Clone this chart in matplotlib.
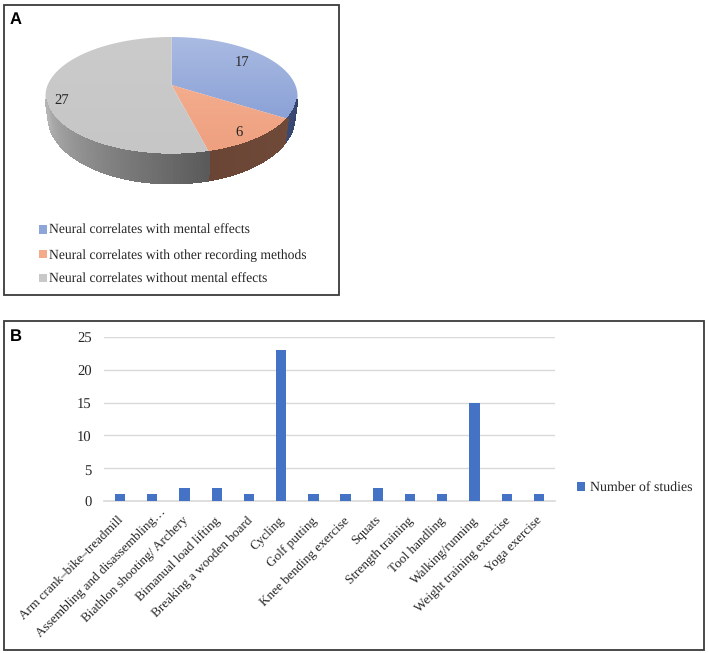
import numpy as np
import matplotlib
matplotlib.use('Agg')
import matplotlib.pyplot as plt
from matplotlib.patches import Patch, Rectangle, Polygon
from matplotlib.colors import LinearSegmentedColormap, to_rgb
from matplotlib.transforms import ScaledTranslation

pie_labels = ['Neural correlates with mental effects',
              'Neural correlates with other recording methods',
              'Neural correlates without mental effects']
pie_values = [17, 6, 27]

activities = ['Arm crank\u2013bike\u2013treadmill', 'Assembling and disassembling\u2026',
              'Biathlon shooting/ Archery', 'Bimanual load lifting', 'Breaking a wooden board',
              'Cycling', 'Golf putting', 'Knee bending exercise', 'Squats', 'Strength training',
              'Tool handling', 'Walking/running', 'Weight training exercise', 'Yoga exercise']
studies = [1, 1, 2, 2, 1, 23, 1, 1, 2, 1, 1, 15, 1, 1]

W, H = 709, 653
plt.rcParams['font.family'] = ['Liberation Serif', 'DejaVu Serif']
plt.rcParams['text.hinting'] = 'no_hinting'
fig = plt.figure(figsize=(W / 100, H / 100), dpi=100)

# whole figure axes in pixels, for the frames and the pie
bg = fig.add_axes([0, 0, 1, 1])
bg.axis('off')

frame_col = '#3a3a3a'
bg.add_patch(Rectangle((4, 5), 335, 290, fill=False, ec=frame_col, lw=1.3))
bg.add_patch(Rectangle((4, 321), 700, 329, fill=False, ec=frame_col, lw=1.3))
bg.text(10, 20, 'A', family='Liberation Sans', weight='bold', fontsize=12, color='black', va='center')
bg.text(10, 337, 'B', family='Liberation Sans', weight='bold', fontsize=12, color='black', va='center')


# tilted disc, perspective projection of a unit circle
def project(t, r=1.0):
    x = r * np.sin(t)
    y = r * np.cos(t)
    d = 1 + 0.186 * y
    return 171.5 + 123.8 * x / d, 85 - 56.9 * y / d


edges = np.cumsum([0] + pie_values) / sum(pie_values) * 2 * np.pi
top_cols = [('#aabbe2', '#7d96d2'), ('#f6b698', '#ee9f7e'), ('#cbcbcb', '#c6c6c6')]
# wall colours run clockwise, from the first edge to the second
wall_cols = [('#33426c', '#3b4a72'), ('#704a39', '#6a4535'), ('#5a5a5a', '#b4b4b4')]

# side wall first
vis0, vis1 = np.radians(104), np.radians(256)
for i in range(3):
    a = max(edges[i], vis0)
    b = min(edges[i + 1], vis1)
    if b <= a:
        continue
    ts = np.linspace(a, b, 70)
    c0 = np.array(to_rgb(wall_cols[i][0]))
    c1 = np.array(to_rgb(wall_cols[i][1]))
    for j in range(len(ts) - 1):
        f = j / (len(ts) - 2)
        x0, y0 = project(ts[j])
        x1, y1 = project(ts[j + 1])
        bx0 = 171.5 + (x0 - 171.5) * 0.975
        bx1 = 171.5 + (x1 - 171.5) * 0.975
        by0 = 85 + (y0 - 85) * 1.12 + 20
        by1 = 85 + (y1 - 85) * 1.12 + 20
        quad = [(x0, y0), (x1, y1), (bx1, by1), (bx0, by0)]
        col = c0 + (c1 - c0) * f
        bg.add_patch(Polygon(quad, closed=True, fc=col, ec=col, lw=1.0, antialiased=False))

# top of the pie, gradient clipped to each slice
for i in range(3):
    ts = np.linspace(edges[i], edges[i + 1], 200)
    xs, ys = project(ts)
    pts = [(171.5, 85)] + list(zip(xs, ys))
    poly = Polygon(pts, closed=True, fc='none', ec='none', transform=bg.transData)
    bg.add_patch(poly)
    cmap = LinearSegmentedColormap.from_list('g', top_cols[i])
    im = bg.imshow(np.linspace(0, 1, 128).reshape(-1, 1), cmap=cmap, aspect='auto',
                   extent=[40, 300, 156, 36], interpolation='bilinear')
    im.set_clip_path(poly)

for val, pos in zip(pie_values, [(242, 62), (239, 133), (62, 100)]):
    bg.text(pos[0], pos[1], str(val), fontsize=10.5, color='#262626', ha='center', va='center')

bg.set_xlim(0, W)
bg.set_ylim(H, 0)

handles = [Patch(fc=c, ec='none') for c in ['#8ea5d9', '#f4ab8c', '#c8c8c8']]
bg.legend(handles, pie_labels, loc='upper left', bbox_to_anchor=(39 / W, 1 - 224.5 / H), frameon=False,
          fontsize=9.85, labelcolor='#262626', handlelength=0.55, handleheight=0.55, handletextpad=0.2,
          labelspacing=0.85, borderpad=0, borderaxespad=0)

# panel B
ax = fig.add_axes([104 / W, 1 - 501 / H, 451 / W, 164 / H])
x = np.arange(len(activities))
ax.bar(x, studies, width=0.32, color='#4472c4', label='Number of studies', zorder=3)
ax.set_xlim(-0.5, len(activities) - 0.5)
ax.set_ylim(0, 25)
ax.set_yticks([0, 5, 10, 15, 20, 25])
ax.set_xticks(x)
ax.set_xticklabels(activities, rotation=45, ha='right', va='top', rotation_mode='anchor',
                   fontsize=9.5, color='#262626')
ax.tick_params(length=0)
ax.tick_params(axis='x', pad=8)
ax.tick_params(axis='y', pad=9, labelsize=10.5, labelcolor='#262626')
ax.grid(axis='y', color='#d9d9d9', lw=1, zorder=0)
for s in ['top', 'right', 'left']:
    ax.spines[s].set_visible(False)
ax.spines['bottom'].set_color('#d9d9d9')
ax.spines['bottom'].set_linewidth(1.2)
ax.patch.set_alpha(0)

# nudge the slanted labels, the long one sits higher
for k, lab in enumerate(ax.get_xticklabels()):
    dx, dy = (7, 7) if k == 1 else (-3, -2)
    lab.set_transform(lab.get_transform() + ScaledTranslation(dx / 100, dy / 100, fig.dpi_scale_trans))
for lab in ax.get_yticklabels():
    lab.set_transform(lab.get_transform() + ScaledTranslation(0, -1 / 100, fig.dpi_scale_trans))

fig.legend(handles=[Patch(fc='#4472c4', ec='none', label='Number of studies')], loc='center left',
           bbox_to_anchor=(577 / W, 1 - 488 / H), frameon=False, fontsize=10, labelcolor='#262626',
           handlelength=0.6, handleheight=0.6, handletextpad=0.3, borderpad=0, borderaxespad=0)

fig.savefig('out.png', dpi=100)
